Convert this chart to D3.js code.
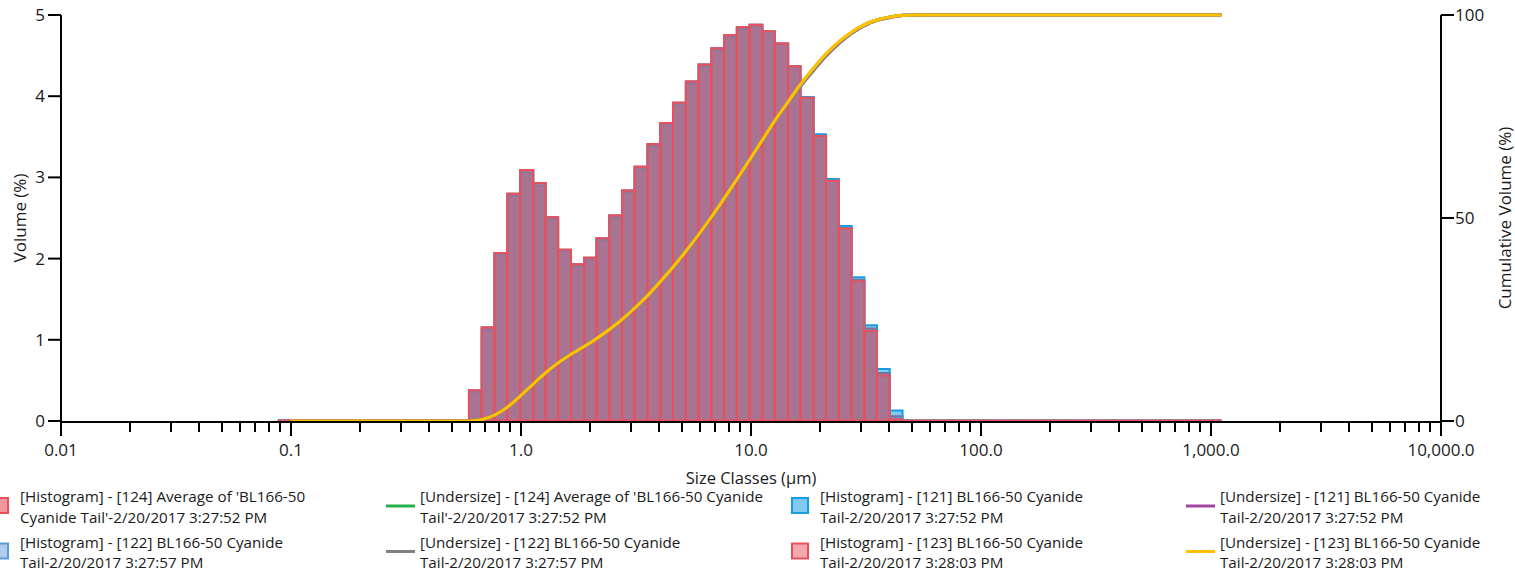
<!DOCTYPE html>
<html><head><meta charset="utf-8">
<script src="https://cdn.jsdelivr.net/npm/d3@7"></script>
<style>
body{margin:0;background:#fff;}
svg{display:block;font-family:"Open Sans","Noto Sans",sans-serif;}
</style></head><body>
<svg id="chart" width="1515" height="571"></svg>
<script>
// Size class edges (µm)
const sizeEdges = [0.0876,0.0995,0.113,0.128,0.146,0.166,0.188,0.214,0.243,0.276,0.314,0.357,0.405,0.460,0.523,
  0.594,0.675,0.767,0.872,0.991,1.13,1.28,1.45,1.65,1.88,2.13,2.42,2.75,3.12,3.55,4.03,4.58,5.21,5.92,6.72,7.64,8.68,9.86,
  11.2,12.7,14.5,16.4,18.7,21.2,24.1,27.4,31.1,35.3,40.1,45.6,51.8,58.9,66.9,76.0,86.4,98.1,111,127,144,163,186,211,240,
  272,310,352,400,454,516,586,666,756,859,976,1110];

const zeros15 = [0,0,0,0,0,0,0,0,0,0,0,0,0,0,0];
const zeros25 = [0,0,0,0,0,0,0,0,0,0,0,0,0,0,0,0,0,0,0,0,0,0,0,0,0];
const hundreds25 = [100,100,100,100,100,100,100,100,100,100,100,100,100,100,100,100,100,100,100,100,100,100,100,100,100];

// Histogram volumes (%) per size class
const hist124 = zeros15.concat([0.38,1.15,2.07,2.80,3.09,2.93,2.51,2.11,1.93,2.01,2.25,2.53,2.84,3.13,3.41,3.67,3.92,4.18,4.39,4.59,4.75,4.85,4.88,4.80,4.65,4.37,3.98,3.51,2.97,2.38,1.74,1.14,0.59,0.06]).concat(zeros25);
const hist121 = zeros15.concat([0.36,1.12,2.04,2.77,3.06,2.90,2.49,2.09,1.91,1.99,2.23,2.51,2.82,3.11,3.39,3.65,3.90,4.16,4.37,4.57,4.73,4.83,4.86,4.79,4.64,4.37,3.99,3.53,2.98,2.40,1.77,1.18,0.64,0.13]).concat(zeros25);
const hist122 = zeros15.concat([0.38,1.15,2.07,2.80,3.09,2.93,2.51,2.11,1.93,2.01,2.25,2.53,2.84,3.13,3.41,3.67,3.92,4.18,4.39,4.59,4.75,4.85,4.88,4.80,4.65,4.37,3.98,3.51,2.96,2.37,1.72,1.11,0.56,0.03]).concat(zeros25);
const hist123 = zeros15.concat([0.38,1.15,2.07,2.80,3.09,2.93,2.51,2.11,1.93,2.01,2.25,2.53,2.84,3.13,3.41,3.67,3.92,4.18,4.39,4.59,4.75,4.85,4.88,4.80,4.65,4.37,3.98,3.51,2.96,2.37,1.72,1.11,0.56,0.02]).concat(zeros25);

// Undersize (cumulative %) at the upper edge of each size class
const under123 = zeros15.concat([0.35,1.45,3.4,6.1,9.1,11.9,14.3,16.4,18.3,20.3,22.5,25.0,27.8,30.9,34.3,37.9,41.8,45.9,50.2,54.8,59.5,64.3,69.2,74.0,78.6,82.9,86.9,90.4,93.4,95.8,97.6,98.8,99.5,99.9]).concat(hundreds25);
const under124 = zeros15.concat([0.35,1.45,3.4,6.1,9.1,11.9,14.3,16.4,18.3,20.3,22.5,25.0,27.8,30.9,34.3,37.9,41.8,45.9,50.2,54.8,59.5,64.3,69.2,74.0,78.5,82.8,86.8,90.3,93.3,95.7,97.6,98.8,99.5,99.9]).concat(hundreds25);
const under121 = zeros15.concat([0.35,1.45,3.4,6.0,9.0,11.8,14.2,16.3,18.2,20.2,22.4,24.9,27.7,30.8,34.2,37.8,41.7,45.8,50.1,54.7,59.4,64.2,69.1,73.9,78.4,82.6,86.5,90.0,93.0,95.5,97.4,98.7,99.4,99.9]).concat(hundreds25);
const under122 = zeros15.concat([0.35,1.45,3.4,6.1,9.1,11.9,14.3,16.4,18.3,20.3,22.5,25.0,27.8,30.9,34.3,37.9,41.8,45.9,50.2,54.8,59.5,64.3,69.2,74.0,78.3,82.4,86.3,89.9,93.0,95.5,97.4,98.7,99.4,99.9]).concat(hundreds25);

const xTickValues = [0.01,0.1,1,10,100,1000,10000];
const xTickLabels = ["0.01","0.1","1.0","10.0","100.0","1,000.0","10,000.0"];
const yTickValues = [0,1,2,3,4,5];
const y2TickValues = [0,50,100];

const histSeries = [
  {name:"124", values:hist124, stroke:"#e8505b", fill:"#e8505b", op:0.6},
  {name:"121", values:hist121, stroke:"#1a9de0", fill:"#0096dc", op:0.5},
  {name:"122", values:hist122, stroke:"#5b9bd5", fill:"#5b9bd5", op:0.5},
  {name:"123", values:hist123, stroke:"#e8505b", fill:"#e8505b", op:0.5}
];
const underSeries = [
  {name:"124", values:under124, color:"#22b14c"},
  {name:"121", values:under121, color:"#a347a3"},
  {name:"122", values:under122, color:"#808080"},
  {name:"123", values:under123, color:"#ffc000"}
];
const legendItems = [
  {type:"hist", stroke:"#e8505b", fill:"#e8505b", op:0.6, lines:["[Histogram] - [124] Average of 'BL166-50","Cyanide Tail'-2/20/2017 3:27:52 PM"]},
  {type:"line", color:"#22b14c", lines:["[Undersize] - [124] Average of 'BL166-50 Cyanide","Tail'-2/20/2017 3:27:52 PM"]},
  {type:"hist", stroke:"#1a9de0", fill:"#0096dc", op:0.5, lines:["[Histogram] - [121] BL166-50 Cyanide","Tail-2/20/2017 3:27:52 PM"]},
  {type:"line", color:"#a347a3", lines:["[Undersize] - [121] BL166-50 Cyanide","Tail-2/20/2017 3:27:52 PM"]},
  {type:"hist", stroke:"#5b9bd5", fill:"#5b9bd5", op:0.5, lines:["[Histogram] - [122] BL166-50 Cyanide","Tail-2/20/2017 3:27:57 PM"]},
  {type:"line", color:"#808080", lines:["[Undersize] - [122] BL166-50 Cyanide","Tail-2/20/2017 3:27:57 PM"]},
  {type:"hist", stroke:"#e8505b", fill:"#e8505b", op:0.5, lines:["[Histogram] - [123] BL166-50 Cyanide","Tail-2/20/2017 3:28:03 PM"]},
  {type:"line", color:"#ffc000", lines:["[Undersize] - [123] BL166-50 Cyanide","Tail-2/20/2017 3:28:03 PM"]}
];

(function(){
const svg = d3.select("#chart");
const mLeft = 61, mRight = 1441, mTop = 15, mBottom = 421;
const x = d3.scaleLog().domain([0.01,10000]).range([mLeft,mRight]);
const y = d3.scaleLinear().domain([0,5]).range([mBottom,mTop]);
const y2 = d3.scaleLinear().domain([0,100]).range([mBottom,mTop]);

// Histograms
const plot = svg.append("g");
histSeries.forEach(s => {
  const g = plot.append("g");
  s.values.forEach((v,i) => {
    const x0 = x(sizeEdges[i]), x1 = x(sizeEdges[i+1]);
    const yb = y(0) - 0.5, yt = Math.min(y(v), yb);
    g.append("path")
      .attr("d", `M${x0},${yb}V${yt}H${x1}V${yb}Z`)
      .attr("fill", s.fill).attr("fill-opacity", s.op)
      .attr("stroke", s.stroke).attr("stroke-width", 2);
  });
});

// Undersize curves
const line = d3.line().x(d=>x(d[0])).y(d=>y2(d[1])).curve(d3.curveMonotoneX);
underSeries.forEach(s => {
  const pts = s.values.map((v,i)=>[sizeEdges[i+1], v]);
  plot.append("path").attr("d", line(pts)).attr("fill","none")
    .attr("stroke", s.color).attr("stroke-width", 3.2);
});

// Axes
const axisG = svg.append("g").attr("stroke","#000").attr("fill","none");
axisG.append("line").attr("x1",mLeft).attr("x2",mRight).attr("y1",mBottom+1).attr("y2",mBottom+1).attr("stroke-width",2);
axisG.append("line").attr("x1",mLeft).attr("x2",mLeft).attr("y1",mTop).attr("y2",mBottom+2).attr("stroke-width",2);
axisG.append("line").attr("x1",mRight).attr("x2",mRight).attr("y1",mTop).attr("y2",mBottom+2).attr("stroke-width",2);

const allTicks = x.ticks();
const minor = allTicks.filter(t => xTickValues.indexOf(t) < 0 && t < 10000);
axisG.selectAll(".minor").data(minor).enter().append("line")
  .attr("x1",d=>Math.round(x(d))).attr("x2",d=>Math.round(x(d))).attr("y1",mBottom+2).attr("y2",mBottom+11).attr("stroke-width",2);
axisG.selectAll(".major").data(xTickValues).enter().append("line")
  .attr("x1",d=>Math.round(x(d))).attr("x2",d=>Math.round(x(d))).attr("y1",mBottom+2).attr("y2",mBottom+15).attr("stroke-width",2);
axisG.selectAll(".yt").data(yTickValues).enter().append("line")
  .attr("x1",mLeft-13).attr("x2",mLeft).attr("y1",d=>y(d)).attr("y2",d=>y(d)).attr("stroke-width",2);
axisG.selectAll(".y2t").data(y2TickValues).enter().append("line")
  .attr("x1",mRight).attr("x2",mRight+13).attr("y1",d=>y2(d)).attr("y2",d=>y2(d)).attr("stroke-width",2);

const txt = svg.append("g").attr("fill","#1a1a1a");
txt.selectAll(".xl").data(xTickValues).enter().append("text")
  .attr("x",d=>x(d)).attr("y",456).attr("text-anchor","middle").attr("font-size",17).text((d,i)=>xTickLabels[i]);
txt.selectAll(".yl").data(yTickValues).enter().append("text")
  .attr("x",mLeft-16).attr("y",d=>y(d)+6).attr("text-anchor","end").attr("font-size",17).text(d=>d);
txt.selectAll(".y2l").data(y2TickValues).enter().append("text")
  .attr("x",mRight+14).attr("y",d=>y2(d)+6).attr("text-anchor","start").attr("font-size",17).text(d=>d);

txt.append("text").attr("x",(mLeft+mRight)/2).attr("y",484).attr("text-anchor","middle").attr("font-size",16.5).text("Size Classes (µm)");
txt.append("text").attr("transform",`translate(26,${(mTop+mBottom)/2}) rotate(-90)`).attr("text-anchor","middle").attr("font-size",17).text("Volume (%)");
txt.append("text").attr("transform",`translate(1511,${(mTop+mBottom)/2}) rotate(-90)`).attr("text-anchor","middle").attr("font-size",17).text("Cumulative Volume (%)");

// Legend
const leg = svg.append("g");
legendItems.forEach((it,i) => {
  const col = i % 4, row = Math.floor(i/4);
  const tx = 20 + col*400, cy = 506 + row*45.5;
  const g = leg.append("g");
  if (it.type === "hist") {
    g.append("rect").attr("x",tx-28).attr("y",cy-8).attr("width",16).attr("height",15)
      .attr("fill",it.fill).attr("fill-opacity",it.op).attr("stroke",it.stroke).attr("stroke-width",2);
  } else {
    g.append("line").attr("x1",tx-34).attr("x2",tx-5).attr("y1",cy).attr("y2",cy)
      .attr("stroke",it.color).attr("stroke-width",3);
  }
  it.lines.forEach((l,k) => {
    g.append("text").attr("x",tx).attr("y",cy - 4 + k*20.5).attr("font-size",15.2).attr("fill","#1a1a1a").text(l);
  });
});
})();
</script>
</body></html>
